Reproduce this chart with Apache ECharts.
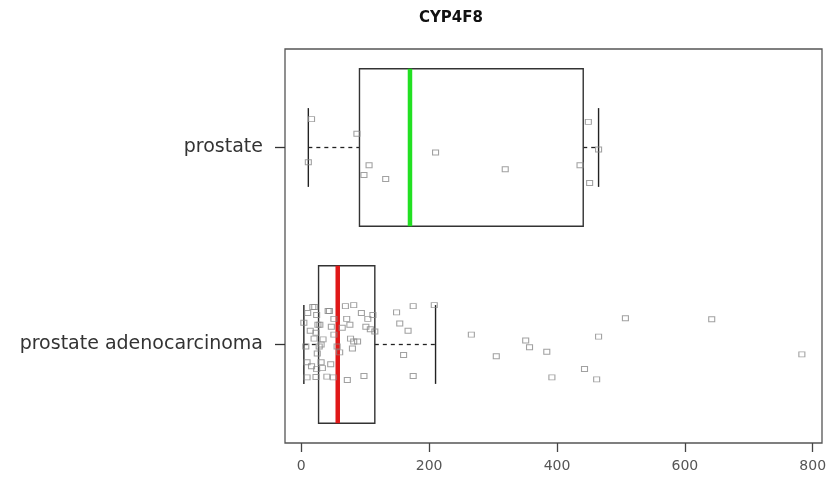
<!DOCTYPE html>
<html>
<head>
<meta charset="utf-8">
<script src="https://cdn.jsdelivr.net/npm/echarts@6/dist/echarts.min.js"></script>
<style>
html,body{margin:0;padding:0;background:#fff;}
#chart{width:835px;height:484px;}
</style>
</head>
<body>
<div id="chart"></div>
<script>
// ---- data ----
var chartTitle = 'CYP4F8';
var categories = ['prostate adenocarcinoma', 'prostate']; // y = 1, 2
var xTicks = [0, 200, 400, 600, 800];

// box statistics: [lower whisker, Q1, median, Q3, upper whisker]
var adenoBox = [4, 27, 57, 115, 210];
var prostateBox = [11, 91, 170, 441, 465];

// jittered points: values and vertical jitter offsets
var prostateValues = [16, 11, 87, 106, 98, 132, 210, 319, 449, 436, 465, 451];
var prostateJitter = [0.144, -0.075, 0.07, -0.09, -0.14, -0.16, -0.025, -0.11, 0.13, -0.09, -0.01, -0.18];

var adenoValues = [18, 21, 10, 24, 42, 44, 4, 29, 26, 51, 47, 71, 64, 76, 82, 69, 94, 104, 112, 101,
  108, 115, 14, 23, 20, 34, 7, 28, 31, 25, 51, 56, 60, 77, 82, 88, 80, 9, 31, 46,
  16, 24, 33, 9, 23, 40, 50, 72, 98, 149, 175, 154, 167, 160, 175, 208, 266, 305, 351, 357,
  384, 392, 507, 642, 465, 783, 443, 462];
var adenoJitter = [0.19, 0.19, 0.16, 0.15, 0.17, 0.17, 0.11, 0.10, 0.10, 0.13, 0.09, 0.13, 0.085, 0.10, 0.20, 0.195, 0.16, 0.13, 0.15, 0.09,
  0.077, 0.066, 0.07, 0.06, 0.03, 0.026, -0.01, -0.01, 0.0, -0.046, 0.05, -0.01, -0.04, 0.03, 0.015, 0.015, -0.02, -0.09, -0.09, -0.10,
  -0.11, -0.125, -0.12, -0.167, -0.165, -0.163, -0.167, -0.18, -0.16, 0.163, 0.195, 0.107, 0.07, -0.053, -0.16, 0.20, 0.05, -0.06, 0.02, -0.014,
  -0.037, -0.167, 0.133, 0.128, 0.04, -0.05, -0.124, -0.177];

var medianColors = ['#e01818', '#22e022'];

// ---- build series data ----
var boxData = [
  [1].concat(adenoBox).concat([0]),
  [2].concat(prostateBox).concat([1])
];
function pts(vals, jit, center) {
  return vals.map(function (v, i) { return [v, center + jit[i]]; });
}
var pointData = pts(prostateValues, prostateJitter, 2).concat(pts(adenoValues, adenoJitter, 1));

var chart = echarts.init(document.getElementById('chart'));
var axisFont = 'DejaVu Sans';

chart.setOption({
  animation: false,
  backgroundColor: '#ffffff',
  title: {
    text: chartTitle,
    left: 414,
    top: 6,
    textStyle: { fontFamily: 'DejaVu Sans', fontWeight: 'bold', fontSize: 15, color: '#111' }
  },
  grid: {
    left: 285, right: 13, top: 49, bottom: 41,
    show: true, borderColor: '#555', borderWidth: 1.3, backgroundColor: 'transparent'
  },
  xAxis: {
    type: 'value',
    min: -25.5,
    max: 814.5,
    splitLine: { show: false },
    axisLine: { show: false, onZero: false },
    axisTick: { show: true, length: 9, customValues: xTicks, lineStyle: { color: '#444', width: 1.3 } },
    axisLabel: { customValues: xTicks, margin: 16, fontFamily: axisFont, fontSize: 14, color: '#555' }
  },
  yAxis: {
    type: 'value',
    min: 0.5,
    max: 2.5,
    splitLine: { show: false },
    axisLine: { show: false, onZero: false },
    axisTick: { show: true, length: 10, customValues: [1, 2], lineStyle: { color: '#333', width: 1.3 } },
    axisLabel: {
      customValues: [1, 2],
      margin: 22,
      fontFamily: axisFont,
      fontSize: 19,
      color: '#333',
      formatter: function (v) { return categories[Math.round(v) - 1]; }
    }
  },
  series: [
    {
      type: 'custom',
      data: boxData,
      z: 2,
      renderItem: function (params, api) {
        var y = api.value(0);
        var mn = api.value(1), q1 = api.value(2), md = api.value(3), q3 = api.value(4), mx = api.value(5);
        var ci = api.value(6);
        var pMin = api.coord([mn, y]), pQ1 = api.coord([q1, y]), pMd = api.coord([md, y]);
        var pQ3 = api.coord([q3, y]), pMax = api.coord([mx, y]);
        var top = api.coord([q1, y + 0.4])[1], bot = api.coord([q1, y - 0.4])[1];
        var cTop = api.coord([q1, y + 0.2])[1], cBot = api.coord([q1, y - 0.2])[1];
        var solid = { stroke: '#222', lineWidth: 1.4, fill: null };
        var dashed = { stroke: '#222', lineWidth: 1.3, lineDash: [4, 4], fill: null };
        return {
          type: 'group',
          children: [
            { type: 'line', shape: { x1: pMin[0], y1: pMin[1], x2: pQ1[0], y2: pQ1[1] }, style: dashed },
            { type: 'line', shape: { x1: pQ3[0], y1: pQ3[1], x2: pMax[0], y2: pMax[1] }, style: dashed },
            { type: 'line', shape: { x1: pMin[0], y1: cTop, x2: pMin[0], y2: cBot }, style: solid },
            { type: 'line', shape: { x1: pMax[0], y1: cTop, x2: pMax[0], y2: cBot }, style: solid },
            { type: 'rect', shape: { x: pQ1[0], y: top, width: pQ3[0] - pQ1[0], height: bot - top },
              style: { stroke: '#333', lineWidth: 1.4, fill: null } },
            { type: 'line', shape: { x1: pMd[0], y1: top, x2: pMd[0], y2: bot },
              style: { stroke: medianColors[ci], lineWidth: 4.5 } }
          ]
        };
      }
    },
    {
      type: 'scatter',
      data: pointData,
      z: 3,
      symbol: 'rect',
      symbolSize: [6, 5],
      itemStyle: { color: 'rgba(0,0,0,0)', borderColor: '#8a8a8a', borderWidth: 1 }
    }
  ]
});
</script>
</body>
</html>
